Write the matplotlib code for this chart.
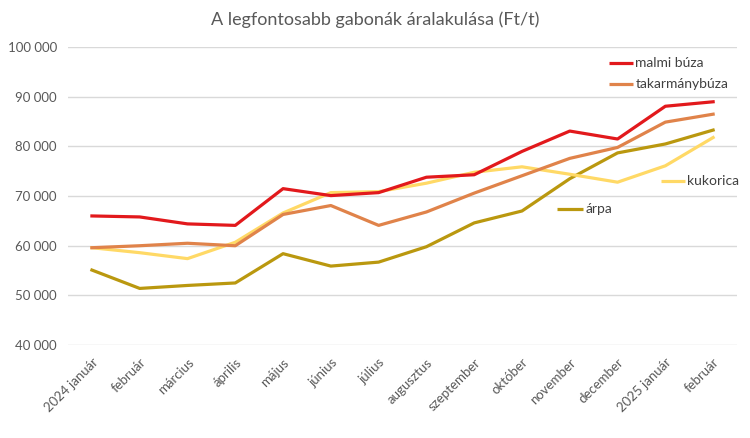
import numpy as np
from matplotlib import pyplot as plt
plt.rcParams['font.family'] = ['Lato', 'DejaVu Sans']

honapok = ['2024 január', 'február', 'március', 'április', 'május', 'június', 'július',
           'augusztus', 'szeptember', 'október', 'november', 'december', '2025 január', 'február']
malmi = [66000, 65800, 64400, 64100, 71500, 70100, 70700, 73800, 74300, 79000, 83100, 81500, 88100, 89000]
takarmany = [59600, 60000, 60500, 60000, 66300, 68100, 64100, 66800, 70600, 74100, 77600, 79800, 84900, 86500]
kukorica = [59600, 58600, 57400, 60700, 66600, 70700, 70900, 72600, 74800, 75900, 74400, 72800, 76100, 81800]
arpa = [55100, 51400, 52000, 52500, 58400, 55900, 56700, 59800, 64600, 67000, 73500, 78700, 80500, 83300]

fig = plt.figure(figsize=(7.5, 4.38), dpi=100)
ax = fig.add_axes([0.0907, 0.2123, 0.892, 0.680])
x = np.arange(len(honapok))

sorozatok = [
    (malmi, '#E2191C', 'malmi búza', (10.82, 11.32, 96800)),
    (takarmany, '#E0834A', 'takarmánybúza', (10.82, 11.32, 92550)),
    (kukorica, '#FFD966', 'kukorica', (11.91, 12.41, 73000)),
    (arpa, '#BA980F', 'árpa', (9.73, 10.28, 67400)),
]
# rajzolási sorrend: árpa alul, malmi búza felül
for y, c, nev, _ in reversed(sorozatok):
    ax.plot(x, y, color=c, lw=2.3, solid_joinstyle='round')
for y, c, nev, (x0, x1, yl) in sorozatok:
    ax.plot([x0, x1], [yl, yl], color=c, lw=2.3, solid_capstyle='butt')
    ax.text(x1 + 0.05, yl, nev, color='#404040', fontsize=10, va='center', ha='left')

ax.set_xlim(-0.5, 13.5)
ax.set_ylim(40000, 100000)
ax.set_yticks(range(40000, 100001, 10000))
ax.set_yticklabels([f'{v:,}'.replace(',', ' ') for v in range(40000, 100001, 10000)])
ax.set_xticks(x)
ax.set_xticklabels(honapok, rotation=45, ha='right', rotation_mode='anchor')
ax.tick_params(length=0, labelsize=9.5, colors='#595959', pad=8)
ax.grid(axis='y', color='#D9D9D9', lw=1)
ax.set_axisbelow(True)
for s in ax.spines.values():
    s.set_visible(False)

fig.text(0.5, 0.955, 'A legfontosabb gabonák áralakulása (Ft/t)', ha='center', va='center',
         fontsize=13, color='#595959')
fig.savefig('out.png')
